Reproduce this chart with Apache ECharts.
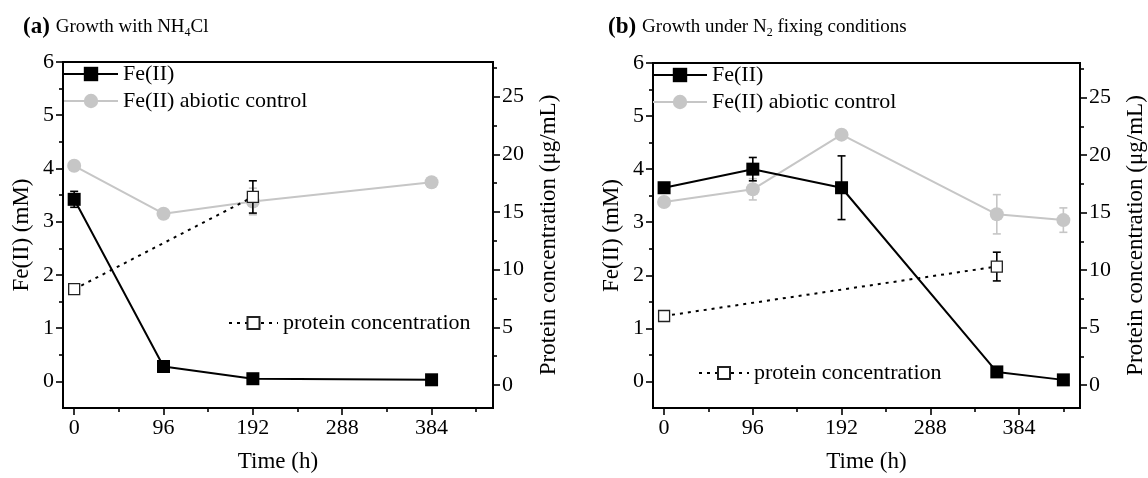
<!DOCTYPE html>
<html>
<head>
<meta charset="utf-8">
<script src="https://cdn.jsdelivr.net/npm/echarts@6/dist/echarts.min.js"></script>
<style>
html,body{margin:0;padding:0;background:#fff;}
#chart{width:1148px;height:478px;}
</style>
</head>
<body>
<div id="chart"></div>
<script>
// ---------- data ----------
// Panel (a): growth with NH4Cl
const timeA = [0, 96, 192, 384];
const feA = [3.42, 0.28, 0.05, 0.03];
const feAErr = [0.15, 0, 0, 0];
const ctrlA = [4.05, 3.15, 3.38, 3.74];
const ctrlAErr = [0, 0, 0.25, 0];
const protTimeA = [0, 192];
const protA = [8.3, 16.3];
const protAErr = [0.4, 1.4];

// Panel (b): growth under N2 fixing conditions
const timeB = [0, 96, 192, 360, 432];
const feB = [3.65, 4.0, 3.65, 0.18, 0.03];
const feBErr = [0.08, 0.22, 0.6, 0.05, 0];
const ctrlB = [3.38, 3.62, 4.65, 3.15, 3.04];
const ctrlBErr = [0.05, 0.2, 0, 0.37, 0.23];
const protTimeB = [0, 360];
const protB = [6.0, 10.3];
const protBErr = [0.4, 1.25];

// tick values
const xMajor = [0, 96, 192, 288, 384];
const xMinor = [48, 144, 240, 336, 432];
const feMajor = [0, 1, 2, 3, 4, 5, 6];
const feMinor = [0.5, 1.5, 2.5, 3.5, 4.5, 5.5];
const protMajor = [0, 5, 10, 15, 20, 25];
const protMinor = [2.5, 7.5, 12.5, 17.5, 22.5, 27.5];

const nameFe = 'Fe(II)';
const nameCtrl = 'Fe(II) abiotic control';
const nameProt = 'protein concentration';

// ---------- style ----------
const FONT = "'Liberation Serif', 'Times New Roman', serif";
const BLACK = '#000';
const GRAY = '#c6c6c6';

function zip(xs, ys) { return xs.map((x, i) => [x, ys[i]]); }
function errData(xs, ys, es) {
  const out = [];
  xs.forEach((x, i) => { if (es[i] > 0) out.push([x, ys[i], es[i]]); });
  return out;
}
function renderErr(params, api) {
  const x = api.value(0), y = api.value(1), e = api.value(2);
  const t = api.coord([x, y + e]);
  const b = api.coord([x, y - e]);
  const cap = 4;
  const style = { stroke: api.visual('color'), lineWidth: 1.6 };
  return {
    type: 'group',
    children: [
      { type: 'line', shape: { x1: t[0], y1: t[1], x2: b[0], y2: b[1] }, style },
      { type: 'line', shape: { x1: t[0] - cap, y1: t[1], x2: t[0] + cap, y2: t[1] }, style },
      { type: 'line', shape: { x1: b[0] - cap, y1: b[1], x2: b[0] + cap, y2: b[1] }, style }
    ]
  };
}

const axisText = { fontFamily: FONT, fontSize: 22, color: BLACK };
const nameText = { fontFamily: FONT, fontSize: 23, color: BLACK };
const lineOff = { show: false, onZero: false };

function xAxes(grid) {
  return [
    {
      gridIndex: grid, type: 'value', min: -12, max: 450, position: 'bottom',
      name: 'Time (h)', nameLocation: 'middle', nameGap: 42,
      nameTextStyle: nameText,
      axisLine: { show: true, onZero: false, lineStyle: { color: BLACK, width: 2 } },
      axisTick: { show: true, customValues: xMajor, length: 7, lineStyle: { color: BLACK, width: 1.6 } },
      axisLabel: Object.assign({ customValues: xMajor, margin: 9 }, axisText),
      splitLine: { show: false }
    },
    {
      gridIndex: grid, type: 'value', min: -12, max: 450, position: 'bottom',
      axisLine: lineOff,
      axisTick: { show: true, customValues: xMinor, length: 4, lineStyle: { color: BLACK, width: 1.6 } },
      axisLabel: { show: false },
      splitLine: { show: false }
    }
  ];
}
function yAxes(grid) {
  return [
    {
      gridIndex: grid, type: 'value', min: -0.5, max: 6, position: 'left',
      name: 'Fe(II) (mM)', nameLocation: 'middle', nameGap: 30, nameRotate: 90,
      nameTextStyle: nameText,
      axisLine: { show: true, onZero: false, lineStyle: { color: BLACK, width: 2 } },
      axisTick: { show: true, customValues: feMajor, length: 7, lineStyle: { color: BLACK, width: 1.6 } },
      axisLabel: Object.assign({ customValues: feMajor, margin: 9 }, axisText),
      splitLine: { show: false }
    },
    {
      gridIndex: grid, type: 'value', min: -0.5, max: 6, position: 'left',
      axisLine: lineOff,
      axisTick: { show: true, customValues: feMinor, length: 4, lineStyle: { color: BLACK, width: 1.6 } },
      axisLabel: { show: false },
      splitLine: { show: false }
    },
    {
      gridIndex: grid, type: 'value', min: -2, max: 28, position: 'right',
      name: 'Protein concentration (μg/mL)', nameLocation: 'middle', nameGap: 44, nameRotate: 90,
      nameTextStyle: nameText,
      axisLine: { show: true, onZero: false, lineStyle: { color: BLACK, width: 2 } },
      axisTick: { show: true, customValues: protMajor, length: 7, lineStyle: { color: BLACK, width: 1.6 } },
      axisLabel: Object.assign({ customValues: protMajor, margin: 9 }, axisText),
      splitLine: { show: false }
    },
    {
      gridIndex: grid, type: 'value', min: -2, max: 28, position: 'right',
      axisLine: lineOff,
      axisTick: { show: true, customValues: protMinor, length: 4, lineStyle: { color: BLACK, width: 1.6 } },
      axisLabel: { show: false },
      splitLine: { show: false }
    }
  ];
}

function panelSeries(p, t, fe, feE, ct, ctE, pt, pr, prE) {
  const xi = p * 2;          // major x axis index
  const yFe = p * 4;         // Fe(II) axis
  const yPr = p * 4 + 2;     // protein axis
  return [
    {
      name: nameCtrl, type: 'line', xAxisIndex: xi, yAxisIndex: yFe,
      data: zip(t, ct), symbol: 'circle', symbolSize: 14,
      itemStyle: { color: GRAY }, lineStyle: { color: GRAY, width: 2 }, z: 3
    },
    {
      name: 'ctrlErr' + p, type: 'custom', xAxisIndex: xi, yAxisIndex: yFe,
      data: errData(t, ct, ctE), renderItem: renderErr,
      itemStyle: { color: GRAY }, encode: { x: 0, y: 1 }, z: 3
    },
    {
      name: nameProt, type: 'line', xAxisIndex: xi, yAxisIndex: yPr,
      data: zip(pt, pr), symbol: 'rect', symbolSize: 11,
      itemStyle: { color: '#fff', borderColor: '#222', borderWidth: 1.3 },
      lineStyle: { color: BLACK, width: 2, type: [3, 5] }, z: 4
    },
    {
      name: 'protErr' + p, type: 'custom', xAxisIndex: xi, yAxisIndex: yPr,
      data: errData(pt, pr, prE), renderItem: renderErr,
      itemStyle: { color: BLACK }, encode: { x: 0, y: 1 }, z: 4
    },
    {
      name: nameFe, type: 'line', xAxisIndex: xi, yAxisIndex: yFe,
      data: zip(t, fe), symbol: 'rect', symbolSize: 13,
      itemStyle: { color: BLACK }, lineStyle: { color: BLACK, width: 2 }, z: 5
    },
    {
      name: 'feErr' + p, type: 'custom', xAxisIndex: xi, yAxisIndex: yFe,
      data: errData(t, fe, feE), renderItem: renderErr,
      itemStyle: { color: BLACK }, encode: { x: 0, y: 1 }, z: 5
    }
  ];
}

const legendText = { fontFamily: FONT, fontSize: 22, color: BLACK };
function legend(left, top, names, w, h) {
  return {
    left: left, top: top, orient: 'vertical', padding: 0, itemGap: 5,
    itemWidth: w, itemHeight: h, data: names, textStyle: legendText,
    selectedMode: false
  };
}

const titleRich = {
  a: { fontFamily: FONT, fontSize: 23, fontWeight: 'bold', color: BLACK, lineHeight: 24, padding: [0, 6, 0, 0] },
  t: { fontFamily: FONT, fontSize: 19, fontWeight: 'normal', color: BLACK, lineHeight: 24 },
  s: { fontFamily: FONT, fontSize: 12, fontWeight: 'normal', color: BLACK, lineHeight: 12, verticalAlign: 'bottom' }
};

const option = {
  animation: false,
  backgroundColor: '#fff',
  title: [
    { left: 23, top: 15, padding: 0, text: '{a|(a)}{t|Growth with NH}{s|4}{t|Cl}',
      textStyle: { fontFamily: FONT, fontSize: 19, fontWeight: 'normal', rich: titleRich } },
    { left: 608, top: 15, padding: 0, text: '{a|(b)}{t|Growth under N}{s|2}{t| fixing conditions}',
      textStyle: { fontFamily: FONT, fontSize: 19, fontWeight: 'normal', rich: titleRich } }
  ],
  legend: [
    legend(63, 63, [nameFe, nameCtrl], 54, 18),
    legend(228, 312, [nameProt], 49, 15),
    legend(652, 64, [nameFe, nameCtrl], 54, 18),
    legend(698, 362, [nameProt], 50, 15)
  ],
  grid: [
    { left: 63, top: 62, width: 430, height: 347, show: true, borderColor: BLACK, borderWidth: 2, backgroundColor: 'transparent' },
    { left: 653, top: 63, width: 428, height: 347, show: true, borderColor: BLACK, borderWidth: 2, backgroundColor: 'transparent' }
  ],
  xAxis: xAxes(0).concat(xAxes(1)),
  yAxis: yAxes(0).concat(yAxes(1)),
  series: panelSeries(0, timeA, feA, feAErr, ctrlA, ctrlAErr, protTimeA, protA, protAErr)
    .concat(panelSeries(1, timeB, feB, feBErr, ctrlB, ctrlBErr, protTimeB, protB, protBErr))
};

const chart = echarts.init(document.getElementById('chart'), null, { renderer: 'canvas' });
chart.setOption(option);
</script>
</body>
</html>
